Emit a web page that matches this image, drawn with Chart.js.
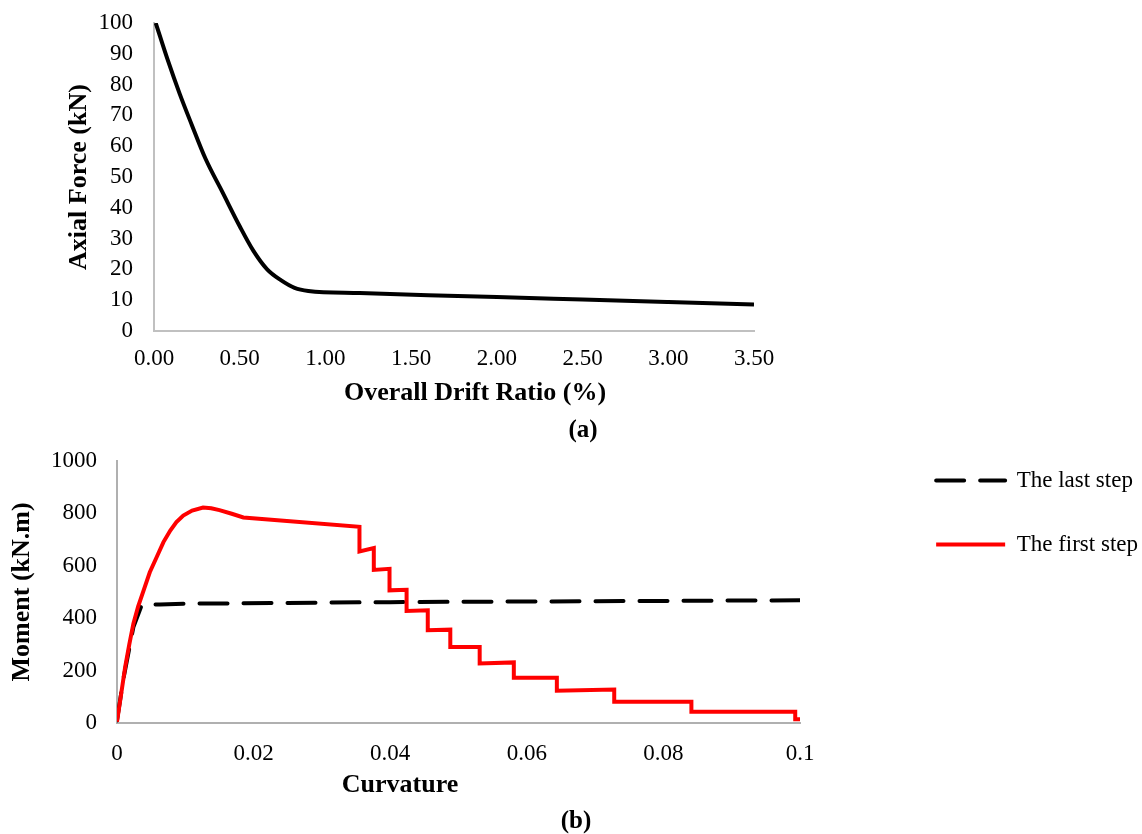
<!DOCTYPE html>
<html>
<head>
<meta charset="utf-8">
<title>Axial force and moment-curvature</title>
<script src="https://cdn.jsdelivr.net/npm/chart.js@4.4.1/dist/chart.umd.min.js"></script>
<style>
  body { margin: 0; background: #fff; }
  canvas { position: absolute; left: 0; }
  #chartA { top: 0; }
  #chartB { top: 447px; }
</style>
</head>
<body>
<canvas id="chartA" width="800" height="450"></canvas>
<canvas id="chartB" width="1142" height="387"></canvas>
<script>
// (a) axial force vs overall drift ratio
const driftRatio = [0.01, 0.08, 0.15, 0.22, 0.30, 0.40, 0.50, 0.58, 0.66, 0.74, 0.82, 0.90, 1.20, 1.60, 2.00, 2.50, 3.00, 3.50];
const axialForce = [100, 88, 77, 67, 56, 45, 34, 26, 20, 16.5, 14, 13, 12.3, 11.6, 11, 10.2, 9.4, 8.6];
const driftTicks = [0, 0.5, 1, 1.5, 2, 2.5, 3, 3.5];
const driftTickLabels = ['0.00', '0.50', '1.00', '1.50', '2.00', '2.50', '3.00', '3.50'];
const forceTicks = [0, 10, 20, 30, 40, 50, 60, 70, 80, 90, 100];

// (b) moment vs curvature
const curvFirst = [0, 0.0012, 0.0018, 0.0024, 0.0031, 0.0039, 0.0048, 0.0058, 0.0068, 0.0078, 0.0087, 0.0097, 0.011, 0.0126, 0.0138, 0.015, 0.0168, 0.0185,
  0.0355, 0.0355, 0.0376, 0.0376, 0.0399, 0.0399, 0.0424, 0.0424, 0.0455, 0.0455, 0.0488, 0.0488, 0.0531, 0.0531,
  0.0581, 0.0581, 0.0644, 0.0644, 0.0728, 0.0728, 0.0841, 0.0841, 0.0993, 0.0993, 0.1];
const momentFirst = [5, 214, 300, 379, 445, 506, 575, 632, 690, 734, 766, 791, 810, 822, 819, 812, 798, 784,
  748, 654, 667, 584, 588, 506, 508, 427, 430, 354, 356, 290, 290, 227,
  231, 173, 173, 123, 128, 81, 81, 43, 43, 14, 14];
const curvLast = [0, 0.0009, 0.0024, 0.0036, 0.0045, 0.0063, 0.0102, 0.04, 0.1];
const momentLast = [10, 163, 366, 449, 451, 452, 455, 461, 468];
const curvTicks = [0, 0.02, 0.04, 0.06, 0.08, 0.1];
const curvTickLabels = ['0', '0.02', '0.04', '0.06', '0.08', '0.1'];
const momentTicks = [0, 200, 400, 600, 800, 1000];

const serif = "'Liberation Serif', 'Times New Roman', serif";
Chart.defaults.font.family = serif;
Chart.defaults.color = '#000';
Chart.defaults.animation = false;

function points(xs, ys) {
  return xs.map((x, i) => ({ x: x, y: ys[i] }));
}

// draws free text (axis captions placed off-centre, panel letters)
function captions(items) {
  return {
    id: 'captions',
    afterDraw(chart) {
      const ctx = chart.ctx;
      ctx.save();
      ctx.fillStyle = '#000';
      ctx.textAlign = 'center';
      ctx.textBaseline = 'middle';
      items.forEach(it => {
        ctx.font = it.font;
        ctx.fillText(it.text, it.x, it.y);
      });
      ctx.restore();
    }
  };
}

const tickFont = { size: 23 };
const titleFont = { size: 26, weight: 'bold' };

new Chart(document.getElementById('chartA'), {
  type: 'line',
  data: {
    datasets: [{
      data: points(driftRatio, axialForce),
      borderColor: '#000',
      borderWidth: 4,
      pointRadius: 0,
      cubicInterpolationMode: 'monotone'
    }]
  },
  options: {
    responsive: false,
    layout: { padding: { top: 23, right: 46, bottom: 0, left: 0 } },
    plugins: { legend: { display: false }, tooltip: { enabled: false } },
    scales: {
      x: {
        type: 'linear', min: 0, max: 3.5,
        afterBuildTicks: s => { s.ticks = driftTicks.map(v => ({ value: v })); },
        afterFit: s => { s.height = 119; },
        ticks: { font: tickFont, padding: 14, maxRotation: 0, autoSkip: false, callback: (v, i) => driftTickLabels[i] },
        grid: { display: false, drawTicks: false },
        border: { color: '#c0c0c0', width: 2 }
      },
      y: {
        min: 0, max: 100,
        afterBuildTicks: s => { s.ticks = forceTicks.map(v => ({ value: v })); },
        afterFit: s => { s.width = 154; },
        // label gap given as (undrawn) tick length so it does not pad the top
        ticks: { font: tickFont, padding: 0, autoSkip: false, callback: v => String(v) },
        grid: { display: false, drawTicks: true, tickLength: 21 },
        border: { color: '#c0c0c0', width: 2 },
        title: { display: true, text: 'Axial Force (kN)', font: titleFont, padding: { top: 64, bottom: 0 } }
      }
    }
  },
  plugins: [captions([
    { text: 'Overall Drift Ratio (%)', x: 475, y: 393, font: 'bold 26px ' + serif },
    { text: '(a)', x: 583, y: 431, font: 'bold 25px ' + serif }
  ])]
});

new Chart(document.getElementById('chartB'), {
  type: 'line',
  data: {
    datasets: [{
      label: 'The first step',
      data: points(curvFirst, momentFirst),
      borderColor: '#ff0000',
      borderWidth: 4,
      pointRadius: 0
    }, {
      label: 'The last step',
      data: points(curvLast, momentLast),
      borderColor: '#000',
      borderWidth: 4,
      borderDash: [28, 16],
      borderCapStyle: 'round',
      pointRadius: 0
    }]
  },
  options: {
    responsive: false,
    layout: { padding: 0 },
    plugins: {
      tooltip: { enabled: false },
      legend: {
        position: 'right',
        align: 'start',
        labels: {
          font: { size: 23 },
          usePointStyle: true,
          pointStyleWidth: 69,
          padding: 41,
          // legend swatches as plain line samples, dashed where the series is
          generateLabels: chart => chart.data.datasets.map((ds, i) => ({
            text: ds.label,
            datasetIndex: i,
            fillStyle: ds.borderColor,
            strokeStyle: ds.borderColor,
            lineWidth: ds.borderWidth,
            lineDash: ds.borderDash || [],
            lineCap: ds.borderDash ? 'round' : 'butt',
            pointStyle: 'line',
            hidden: false
          })),
          sort: (a, b) => b.datasetIndex - a.datasetIndex
        }
      }
    },
    scales: {
      x: {
        type: 'linear', min: 0, max: 0.1,
        afterBuildTicks: s => { s.ticks = curvTicks.map(v => ({ value: v })); },
        afterFit: s => { s.height = 111; },
        ticks: { font: tickFont, padding: 17, maxRotation: 0, autoSkip: false, callback: (v, i) => curvTickLabels[i] },
        grid: { display: false, drawTicks: false },
        border: { color: '#b0b0b0', width: 2 }
      },
      y: {
        min: 0, max: 1000,
        afterBuildTicks: s => { s.ticks = momentTicks.map(v => ({ value: v })); },
        afterFit: s => { s.width = 117; },
        ticks: { font: tickFont, padding: 0, autoSkip: false, callback: v => String(v) },
        grid: { display: false, drawTicks: true, tickLength: 20 },
        border: { color: '#b0b0b0', width: 2 },
        title: { display: true, text: 'Moment (kN.m)', font: titleFont, padding: { top: 7, bottom: 0 } }
      },
      // hidden right-hand box: keeps the gap between plot and legend
      gap: {
        type: 'linear', position: 'right', display: false,
        afterFit: s => { s.width = s.chart.width - s.chart.legend.width - 800; }
      }
    }
  },
  plugins: [captions([
    { text: 'Curvature', x: 400, y: 785 - 447, font: 'bold 26px ' + serif },
    { text: '(b)', x: 576, y: 822 - 447, font: 'bold 25px ' + serif }
  ]), {
    id: 'legendShift',
    afterLayout(chart) {
      const lg = chart.legend;
      lg.top -= 19; lg.bottom -= 19;
      lg.left += 6; lg.right += 6;
    }
  }]
});
</script>
</body>
</html>
